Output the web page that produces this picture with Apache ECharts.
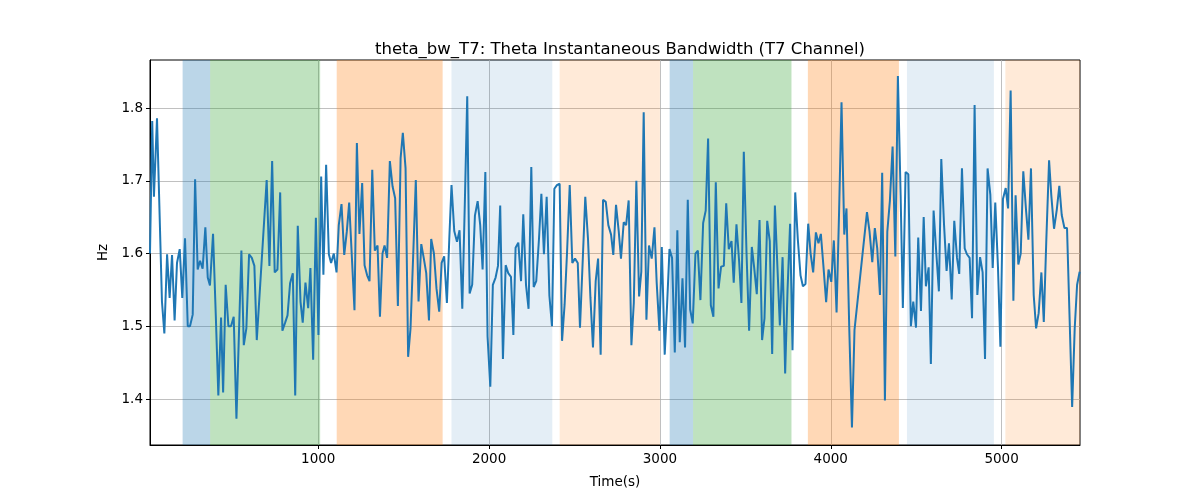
<!DOCTYPE html>
<html>
<head>
<meta charset="utf-8">
<script src="https://cdn.jsdelivr.net/npm/echarts@6/dist/echarts.min.js"></script>
<style>html,body{margin:0;padding:0;background:#fff}#c{width:1200px;height:500px}</style>
</head>
<body>
<div id="c"></div>
<script>
const times = [15,28,38,56,85,99,115,130,144,159,173,189,204,220,236,249,265,279,294,308,323,339,353,366,384,400,415,431,443,458,474,489,505,521,550,564,579,595,611,626,640,
698,714,730,745,761,777,790,806,820,835,851,865,880,896,909,925,941,954,970,986,1001,1017,1030,1046,1062,1075,1091,1107,1120,1136,1152,1167,1181,1212,1226,1241,1257,1271,1286,1300,1316,1331,1347,1361,1376,
1388,1403,1419,1435,1450,1466,1482,1495,1511,1526,1540,1556,1571,1587,1603,1618,1632,1648,1661,1677,1692,1708,1722,1737,1753,1767,1780,1796,1812,1827,1843,1858,1872,1886,1901,1917,1933,1948,1962,1978,1991,2007,2022,2038,2052,2065,2081,
2097,2112,2128,2142,2155,2171,2187,2200,2216,2231,2247,2261,2276,2292,2306,2321,2337,2353,2368,2382,2397,2413,2427,2442,2456,2472,2487,2503,2519,2532,2548,2563,2579,2593,2608,2624,2638,2653,2667,2683,2698,2714,2727,2743,2759,2772,2788,
2802,2817,2833,2847,2862,2878,2891,2905,2921,2936,2952,2968,2981,2997,3011,3028,3042,3056,3071,3087,3102,3116,3132,3147,3163,3177,3192,3208,3222,3237,3253,3268,3282,3298,3313,3327,3343,3358,3374,3388,3403,3419,3432,3448,3464,3477,3491,
3507,3522,3538,3552,3567,3583,3598,3612,3628,3643,3657,3673,3688,3702,3718,3733,3747,3762,3776,3792,3807,3823,3837,3852,3868,3882,3897,3913,3928,3942,3958,3973,3987,4003,4018,4034,4049,4063,4079,4092,4108,4124,4139,
4212,4227,4243,4258,4272,4288,4301,4317,4331,4346,4362,4378,4393,4409,4422,4438,4454,4469,4483,4499,4512,4528,4544,4557,4573,4586,4602,4618,4633,4647,4663,4678,4692,4708,4723,4739,4752,4768,4784,4797,4813,4827,4842,4858,4874,4889,4903,
4918,4934,4948,4963,4979,4993,5008,5024,5038,5053,5069,5082,5098,5112,5127,5143,5157,5172,5188,5202,5217,5233,5247,5262,5278,5291,5307,5323,5338,5352,5368,5383,5397,5413,5428,5442,5457];
const values = [1.60,1.782,1.678,1.786,1.534,1.49,1.599,1.539,1.598,1.508,1.587,1.606,1.539,1.621,1.50,1.50,1.516,1.702,1.578,1.59,1.579,1.636,1.567,1.556,1.627,1.516,1.405,1.512,1.409,1.557,1.50,1.50,1.513,1.373,1.604,1.474,1.497,1.599,1.594,1.583,1.481,
1.701,1.583,1.727,1.574,1.578,1.684,1.494,1.505,1.515,1.559,1.573,1.405,1.638,1.534,1.505,1.56,1.525,1.58,1.454,1.649,1.488,1.706,1.571,1.722,1.599,1.587,1.600,1.574,1.639,1.668,1.598,1.63,1.67,1.522,1.752,1.627,1.697,1.584,1.57,1.562,1.715,1.604,1.611,1.513,1.60,
1.611,1.594,1.727,1.692,1.676,1.528,1.731,1.766,1.717,1.458,1.497,1.60,1.701,1.534,1.613,1.593,1.573,1.508,1.62,1.60,1.552,1.52,1.587,1.596,1.532,1.62,1.694,1.631,1.616,1.632,1.524,1.67,1.816,1.545,1.557,1.652,1.672,1.639,1.578,1.712,1.486,1.417,1.557,1.567,1.583,1.666,1.455,
1.584,1.573,1.568,1.488,1.608,1.615,1.562,1.654,1.557,1.524,1.719,1.554,1.562,1.62,1.682,1.599,1.678,1.542,1.50,1.689,1.694,1.696,1.48,1.53,1.60,1.694,1.587,1.593,1.587,1.498,1.59,1.678,1.62,1.54,1.471,1.562,1.593,1.461,1.674,1.671,1.639,1.626,1.598,1.667,1.63,1.593,1.643,
1.639,1.673,1.474,1.532,1.70,1.541,1.575,1.794,1.509,1.611,1.593,1.636,1.56,1.494,1.609,1.461,1.53,1.606,1.594,1.464,1.632,1.478,1.566,1.471,1.674,1.523,1.504,1.60,1.604,1.536,1.642,1.659,1.758,1.529,1.513,1.698,1.552,1.582,1.583,1.669,1.606,1.617,1.56,1.64,1.588,1.532,1.74,
1.60,1.494,1.609,1.58,1.544,1.646,1.481,1.511,1.645,1.617,1.462,1.666,1.58,1.501,1.595,1.435,1.55,1.641,1.467,1.684,1.62,1.57,1.555,1.558,1.641,1.60,1.574,1.629,1.614,1.627,1.58,1.533,1.578,1.561,1.618,1.519,1.66,1.808,1.626,1.662,1.50,1.361,1.495,
1.657,1.63,1.588,1.635,1.607,1.543,1.711,1.398,1.63,1.672,1.747,1.596,1.844,1.68,1.525,1.712,1.709,1.50,1.534,1.498,1.622,1.521,1.65,1.555,1.581,1.448,1.659,1.60,1.548,1.73,1.64,1.576,1.614,1.537,1.645,1.594,1.572,1.717,1.607,1.599,1.594,1.511,1.804,1.543,1.595,1.574,1.455,
1.717,1.681,1.58,1.67,1.58,1.472,1.675,1.69,1.662,1.824,1.535,1.68,1.585,1.60,1.713,1.66,1.619,1.717,1.543,1.497,1.518,1.574,1.506,1.62,1.728,1.68,1.634,1.66,1.693,1.653,1.635,1.635,1.52,1.389,1.497,1.557,1.575];

const spanStarts = [206, 367, 1108, 1780, 2413, 3057, 3194, 3866, 4446, 5022];
const spanEnds   = [367, 1011, 1728, 2370, 3000, 3194, 3770, 4399, 4955, 5459];
const spanKinds  = ['blue','green','orange','lightblue','lightorange','blue','green','orange','lightblue','lightorange'];
const xTicks = [1000, 2000, 3000, 4000, 5000];
const yTicks = [1.4, 1.5, 1.6, 1.7, 1.8];
const xRange = [15, 5459];
const yRange = [1.3368, 1.866];

const kindColor = {
  blue: 'rgba(31,119,180,0.3)',
  green: 'rgba(44,160,44,0.3)',
  orange: 'rgba(255,127,14,0.3)',
  lightblue: 'rgba(31,119,180,0.12)',
  lightorange: 'rgba(255,127,14,0.16)'
};

const lineData = times.map((t, i) => [t, values[i]]);
const areas = spanStarts.map((s, i) => [
  { xAxis: s, itemStyle: { color: kindColor[spanKinds[i]] } },
  { xAxis: spanEnds[i] }
]);

const font = 'DejaVu Sans';
const chart = echarts.init(document.getElementById('c'), null, { renderer: 'canvas' });
chart.setOption({
  animation: false,
  backgroundColor: '#ffffff',
  title: {
    text: 'theta_bw_T7: Theta Instantaneous Bandwidth (T7 Channel)',
    left: 615, top: 36, textAlign: 'center',
    textStyle: { fontFamily: font, fontSize: 16.5, fontWeight: 'normal', color: '#000' }
  },
  grid: { left: 150, right: 120, top: 60, bottom: 55, show: true, borderColor: '#000', borderWidth: 1, backgroundColor: 'transparent' },
  xAxis: {
    type: 'value', min: xRange[0], max: xRange[1],
    name: 'Time(s)', nameLocation: 'middle', nameGap: 30,
    nameTextStyle: { fontFamily: font, fontSize: 13.5, color: '#000' },
    axisLine: { show: true, lineStyle: { color: '#000', width: 1 } },
    axisTick: { show: true, length: 4, customValues: xTicks, lineStyle: { color: '#000' } },
    axisLabel: { customValues: xTicks, fontFamily: font, fontSize: 13.5, color: '#000', margin: 7, formatter: v => String(v) },
    splitLine: { show: true, lineStyle: { color: '#b0b0b0', width: 0.8 } }
  },
  yAxis: {
    type: 'value', min: yRange[0], max: yRange[1],
    name: 'Hz', nameLocation: 'middle', nameGap: 38, nameRotate: 90,
    nameTextStyle: { fontFamily: font, fontSize: 13.5, color: '#000' },
    axisLine: { show: true, lineStyle: { color: '#000', width: 1 } },
    axisTick: { show: true, length: 4, customValues: yTicks, lineStyle: { color: '#000' } },
    axisLabel: { customValues: yTicks, fontFamily: font, fontSize: 13.5, color: '#000', margin: 7, formatter: v => v.toFixed(1) },
    splitLine: { show: true, lineStyle: { color: '#b0b0b0', width: 0.8 } }
  },
  series: [{
    type: 'line', data: lineData, showSymbol: false, symbol: 'none',
    lineStyle: { color: '#1f77b4', width: 2 },
    markArea: { silent: true, data: areas },
    z: 3
  }]
});
</script>
</body>
</html>
